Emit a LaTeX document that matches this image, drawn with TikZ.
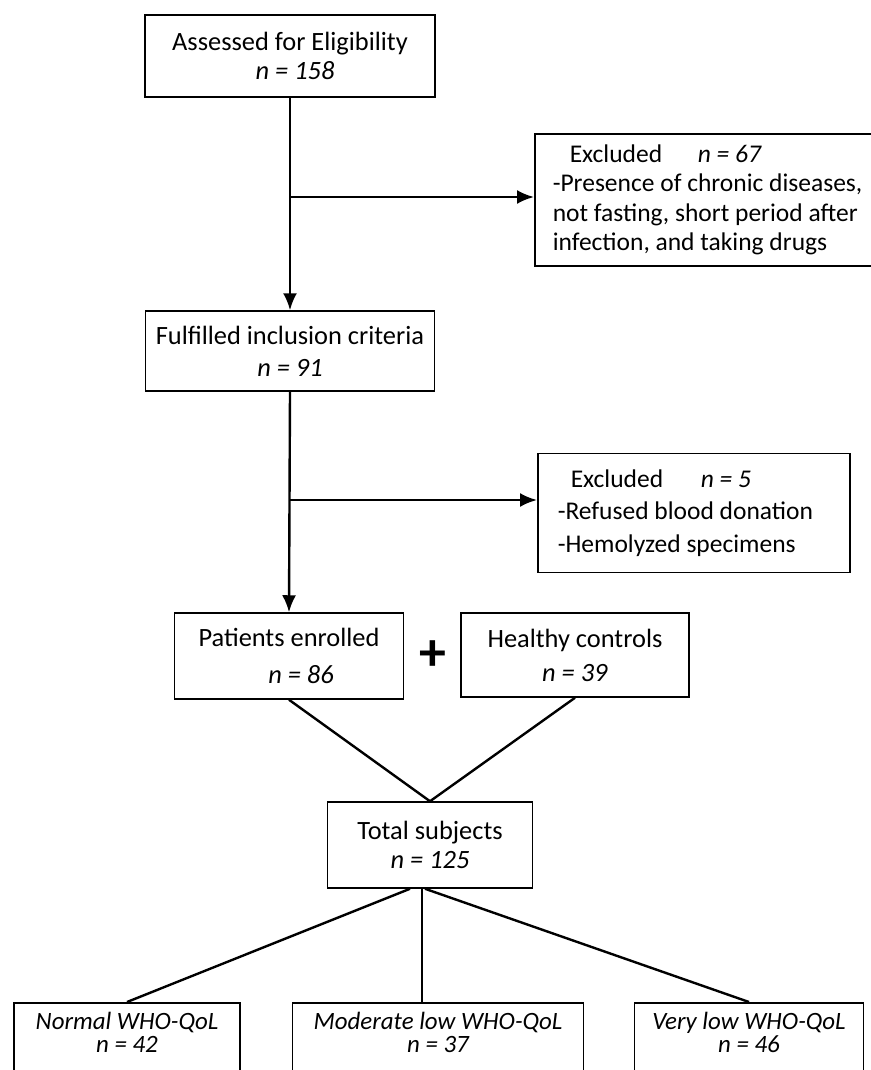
\documentclass[tikz,border=0pt]{standalone}
\usepackage{fontspec}
\setmainfont{Carlito}
\usetikzlibrary{arrows.meta}
\tikzset{
	box/.style={draw, line width=1.5bp, align=center, inner sep=0pt, font=\fontsize{26.5}{29}\selectfont},
	exbox/.style={box, align=flush left, inner xsep=18bp, font=\fontsize{25.6}{29.5}\selectfont},
	qolbox/.style={box, anchor=north, inner ysep=9bp, text depth=60bp, font=\fontsize{25}{24}\selectfont\itshape},
	link/.style={line width=2.4bp},
	arr/.style={link, -{Latex[length=17bp,width=14bp]}},
}

\begin{document}
\begin{tikzpicture}[x=1bp, y=-1bp]
			%%%%% START %%%%%
			
			\useasboundingbox (0, 0) rectangle (871, 1070);
			
			\node[box, minimum width=290bp, minimum height=82bp] (assess) at (290, 56) {Assessed for Eligibility\\\hspace*{10bp}\textit{n = 158}};
			\node[exbox, text width=330bp, minimum height=132bp, anchor=west] (excl1) at (534, 200) {\makebox[145bp][l]{\hspace*{17bp}Excluded}\textit{n = 67}\\-Presence of chronic diseases,\\not fasting, short period after\\infection, and taking drugs\\[-6bp]};
			
			\node[box, minimum width=289bp, minimum height=80bp] (fulfil) at (290, 351) {Fulfilled inclusion criteria\\[3bp]\textit{n = 91}};
			\node[exbox, text width=272bp, minimum height=119bp, anchor=west, inner xsep=20bp] (excl2) at (537, 513) {\makebox[143bp][l]{\hspace*{13bp}Excluded}\textit{n = 5}\\[3bp]-Refused blood donation\\[3bp]-Hemolyzed specimens};
			
			\node[box, minimum width=229bp, minimum height=86bp] (patient) at (289, 656) {Patients enrolled\\[8bp]\hspace*{24bp}\textit{n = 86}};
			\node[font=\fontsize{54}{54}\selectfont\bfseries] (plus) at (433, 656) {+};
			\node[box, minimum width=228bp, minimum height=84bp] (healthy) at (575, 655) {Healthy controls\\[5bp]\textit{n = 39}};
			
			\node[box, minimum width=205bp, minimum height=86bp] (total) at (430, 845) {Total subjects\\\textit{n = 125}};
			
			\node[qolbox, minimum width=226bp] (normal) at (127, 1002) {Normal WHO-QoL\\n = 42};
			\node[qolbox, minimum width=291bp] (moderate) at (438, 1002) {Moderate low WHO-QoL\\n = 37};
			\node[qolbox, minimum width=229bp] (verylow) at (749, 1002) {Very low WHO-QoL\\n = 46};
			
			\coordinate (fork1) at (290, 197);
			\coordinate (fork2) at (290, 500);
			
			\draw[arr] (assess.south) -- (fulfil.north);
			\draw[arr] (fork1) -- (fork1 -| excl1.west);
			\draw[arr] (fulfil.south) -- (patient.north);
			\draw[arr] (fork2) -- (fork2 -| excl2.west);
			
			\draw[link] (patient.south) -- (total.north);
			\draw[link] (healthy.south) -- (total.north);
			
			\draw[link] ([xshift=-20bp]total.south) -- (normal.north);
			\draw[link] ([xshift=-8bp]total.south) -- ([xshift=-8bp]total.south |- moderate.north);
			\draw[link] ([xshift=-5bp]total.south) -- (verylow.north);
			
			%%%%% END %%%%%
\end{tikzpicture}
\end{document}
